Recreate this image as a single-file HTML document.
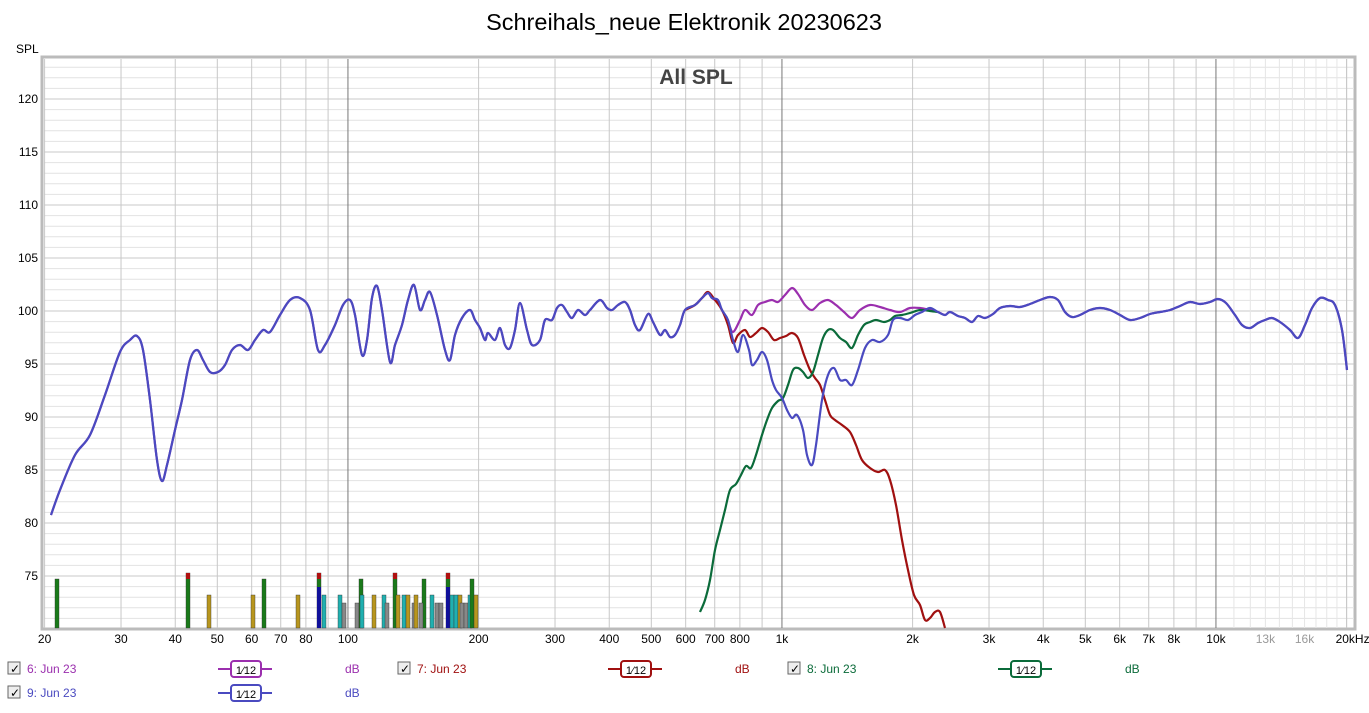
<!DOCTYPE html>
<html><head><meta charset="utf-8"><style>
body{margin:0;background:#fff;width:1369px;height:708px;overflow:hidden;font-family:"Liberation Sans",sans-serif}
</style></head><body>
<svg id="s" width="1369" height="708" xmlns="http://www.w3.org/2000/svg" font-family="Liberation Sans, sans-serif">
<rect width="1369" height="708" fill="#fff"/>
<text x="684" y="30" font-size="23.5" text-anchor="middle" fill="#000">Schreihals_neue Elektronik 20230623</text>
<text x="16" y="53" font-size="12" fill="#000">SPL</text>
<rect x="42" y="57" width="1313" height="572" fill="#fff" stroke="#bbb" stroke-width="3"/>
<g id="grid"></g>
<text x="696" y="84" font-size="21" font-weight="bold" text-anchor="middle" fill="#444">All SPL</text>
<g id="bars"></g>
<g id="curves" fill="none" stroke-width="2.2" stroke-linejoin="round"></g>
<g id="labels" font-size="12" fill="#000"></g>
<g font-size="12">
<rect x="8" y="662" width="12" height="12" fill="#eee" stroke="#666"/><text x="10" y="673" font-size="12">✓</text>
<text x="27" y="673" fill="#9b2fae">6: Jun 23</text>
<line x1="218" y1="669" x2="272" y2="669" stroke="#9b2fae" stroke-width="2"/><rect x="231" y="661" width="30" height="16" rx="3" fill="#fff" stroke="#9b2fae" stroke-width="2"/><text x="246" y="674" text-anchor="middle" font-size="11">1⁄12</text>
<text x="345" y="673" fill="#9b2fae">dB</text>
<rect x="398" y="662" width="12" height="12" fill="#eee" stroke="#666"/><text x="400" y="673">✓</text>
<text x="417" y="673" fill="#a01010">7: Jun 23</text>
<line x1="608" y1="669" x2="662" y2="669" stroke="#a01010" stroke-width="2"/><rect x="621" y="661" width="30" height="16" rx="3" fill="#fff" stroke="#a01010" stroke-width="2"/><text x="636" y="674" text-anchor="middle" font-size="11">1⁄12</text>
<text x="735" y="673" fill="#a01010">dB</text>
<rect x="788" y="662" width="12" height="12" fill="#eee" stroke="#666"/><text x="790" y="673">✓</text>
<text x="807" y="673" fill="#0b6b3a">8: Jun 23</text>
<line x1="998" y1="669" x2="1052" y2="669" stroke="#0b6b3a" stroke-width="2"/><rect x="1011" y="661" width="30" height="16" rx="3" fill="#fff" stroke="#0b6b3a" stroke-width="2"/><text x="1026" y="674" text-anchor="middle" font-size="11">1⁄12</text>
<text x="1125" y="673" fill="#0b6b3a">dB</text>
<rect x="8" y="686" width="12" height="12" fill="#eee" stroke="#666"/><text x="10" y="697">✓</text>
<text x="27" y="697" fill="#4a4ac0">9: Jun 23</text>
<line x1="218" y1="693" x2="272" y2="693" stroke="#4a4ac0" stroke-width="2"/><rect x="231" y="685" width="30" height="16" rx="3" fill="#fff" stroke="#4a4ac0" stroke-width="2"/><text x="246" y="698" text-anchor="middle" font-size="11">1⁄12</text>
<text x="345" y="697" fill="#4a4ac0">dB</text>
</g>
</svg>
<script>
var NS="http://www.w3.org/2000/svg";
function el(p,t,a){var e=document.createElementNS(NS,t);for(var k in a)e.setAttribute(k,a[k]);document.getElementById(p).appendChild(e);return e;}
function fx(f){return 44.6+434*(Math.log10(f)-1.30103);}
function fy(d){return 311-(d-100)*10.6;}
for(var d=71;d<=123;d++){var y=fy(d);el("grid","line",{x1:44,x2:1354,y1:y,y2:y,stroke:d%5==0?"#c8c8c8":"#e2e2e2","stroke-width":1});}
var fs=[];for(var dec=10;dec<=10000;dec*=10){for(var m=1;m<10;m++){var f=dec*m;if(f>=20&&f<=20000)fs.push(f);}}
fs.push(20000);
for(var i=0;i<fs.length;i++){var f=fs[i],x=fx(f);var major=(f==100||f==1000||f==10000);
el("grid","line",{x1:x,x2:x,y1:59,y2:628,stroke:major?"#777":"#c8c8c8","stroke-width":1});
if(f>=10000&&f<20000){for(var k=1;k<10;k++){var xx=fx(f+k*f/10);el("grid","line",{x1:xx,x2:xx,y1:59,y2:628,stroke:"#e6e6e6"});}}}
for(var d=75;d<=120;d+=5){var t=el("labels","text",{x:38,y:fy(d)+4,"text-anchor":"end"});t.textContent=d;}
var xl=[[20,"20"],[30,"30"],[40,"40"],[50,"50"],[60,"60"],[70,"70"],[80,"80"],[100,"100"],[200,"200"],[300,"300"],[400,"400"],[500,"500"],[600,"600"],[700,"700"],[800,"800"],[1000,"1k"],[2000,"2k"],[3000,"3k"],[4000,"4k"],[5000,"5k"],[6000,"6k"],[7000,"7k"],[8000,"8k"],[10000,"10k"],[13000,"13k"],[16000,"16k"],[20000,"20kHz"]];
xl.forEach(function(a){var t=el("labels","text",{x:fx(a[0])+(a[0]==20000?6:0),y:643,"text-anchor":"middle",fill:(a[0]==13000||a[0]==16000)?"#999":"#000"});t.textContent=a[1];});
var bars=[[57,579,"#1a7a1a"],[188,573,"#1a7a1a",1],[209,595,"#b8961e"],[253,595,"#b8961e"],[264,579,"#1a7a1a"],[298,595,"#b8961e"],[319,573,"#1a7a1a",1,"#10109a"],[324,595,"#20b0b0"],[340,595,"#20b0b0"],[344,603,"#888"],[357,603,"#888"],[361,579,"#1a7a1a"],[362,595,"#20b0b0"],[374,595,"#b8961e"],[384,595,"#20b0b0"],[387,603,"#888"],[395,573,"#1a7a1a",1],[398,595,"#b8961e"],[404,595,"#20b0b0"],[408,595,"#b8961e"],[414,603,"#888"],[416,595,"#b8961e"],[424,579,"#1a7a1a"],[421,603,"#888"],[432,595,"#20b0b0"],[437,603,"#888"],[441,603,"#888"],[448,573,"#1a7a1a",1,"#10109a"],[452,595,"#20b0b0"],[456,595,"#20b0b0"],[460,595,"#b8961e"],[462,603,"#888"],[466,603,"#888"],[470,595,"#20b0b0"],[472,579,"#1a7a1a"],[476,595,"#b8961e"]];
bars.forEach(function(b){el("bars","rect",{x:b[0]-2,y:b[1],width:4,height:628-b[1],fill:b[2],stroke:"#333","stroke-width":0.4});
if(b[3])el("bars","rect",{x:b[0]-2,y:b[1],width:4,height:6,fill:"#b01010"});
if(b[4])el("bars","rect",{x:b[0]-2,y:b[1]+14,width:4,height:628-b[1]-14,fill:b[4]});});
function path(p,col){var d="M"+p[0][0]+","+p[0][1];
for(var i=0;i<p.length-1;i++){var p0=p[Math.max(i-1,0)],p1=p[i],p2=p[i+1],p3=p[Math.min(i+2,p.length-1)];
var c1x=p1[0]+(p2[0]-p0[0])/6,c1y=p1[1]+(p2[1]-p0[1])/6,c2x=p2[0]-(p3[0]-p1[0])/6,c2y=p2[1]-(p3[1]-p1[1])/6;
d+=" C"+c1x+","+c1y+" "+c2x+","+c2y+" "+p2[0]+","+p2[1];}
el("curves","path",{d:d,stroke:col});}
var base=[[51,515],[60,490],[75,455],[90,435],[105,395],[120,352],[130,340],[137,336],[143,350],[150,400],[157,460],[162,481],[167,465],[175,430],[182,400],[190,360],[197,350],[203,360],[210,372],[218,372],[225,365],[232,350],[240,345],[248,350],[255,340],[263,330],[270,332],[280,315],[290,300],[300,298],[310,310],[318,350],[325,345],[335,325],[343,305],[350,300],[355,315],[362,355],[367,340],[372,298],[377,286],[382,310],[390,362],[395,345],[402,325],[408,300],[414,285],[420,310],[425,300],[430,292],[437,315],[445,350],[450,360],[455,335],[462,318],[470,310],[475,320],[480,328],[485,340],[488,333],[495,340],[500,328],[505,345],[510,348],[515,330],[520,303],[527,330],[532,345],[540,340],[545,320],[552,320],[557,308],[562,305],[567,312],[572,318],[578,310],[585,315],[590,310],[600,300],[607,308],[612,310],[618,305],[625,302],[630,310],[635,325],[640,330],[648,314],[653,322],[660,335],[665,330],[670,337],[675,335],[680,325],[685,310],[695,305],[702,298],[708,293],[712,298]];
var tail=[[938,312],[945,315],[950,312],[958,316],[965,318],[972,322],[978,316],[985,318],[993,314],[1000,308],[1010,306],[1020,307],[1030,304],[1040,300],[1050,297],[1058,300],[1065,312],[1072,317],[1080,315],[1090,310],[1100,308],[1110,310],[1120,315],[1130,320],[1140,318],[1150,314],[1160,312],[1170,310],[1180,306],[1190,302],[1200,304],[1210,302],[1218,299],[1226,303],[1235,315],[1242,325],[1250,328],[1258,323],[1265,320],[1272,318],[1280,322],[1290,330],[1298,338],[1305,325],[1312,308],[1320,298],[1328,300],[1335,305],[1342,330],[1347,370]];
var red=[[685,310],[695,305],[702,298],[708,292],[715,300],[722,310],[728,325],[733,343],[738,335],[745,330],[750,337],[756,333],[762,328],[768,332],[774,340],[780,338],[786,336],[792,333],[798,338],[804,355],[810,370],[815,378],[820,385],[825,400],[830,415],[835,420],[842,425],[850,432],[856,445],[862,460],[870,468],[878,472],[885,470],[890,480],[896,505],[902,540],[908,570],[914,595],[920,605],[925,620],[930,618],[935,612],[940,612],[945,628]];
var green=[[700,612],[705,600],[710,580],[715,550],[720,530],[725,510],[730,490],[736,484],[741,475],[746,466],[751,468],[756,455],[762,435],[767,420],[772,408],[778,401],[783,398],[788,385],[793,370],[798,368],[803,372],[808,378],[813,372],[818,355],[823,338],[828,330],[833,330],[840,338],[846,342],[852,348],[858,335],[864,325],[870,322],[876,320],[884,322],[890,320],[895,316],[902,315],[910,313],[920,310],[930,311],[938,312]];
var purp=base.concat([[718,303],[728,322],[733,332],[740,320],[745,310],[752,315],[758,305],[765,302],[772,300],[778,302],[785,295],[792,288],[798,294],[805,305],[812,310],[820,303],[828,300],[836,305],[844,312],[852,318],[860,310],[870,305],[880,307],[890,310],[900,312],[910,308],[920,308],[930,310]]).concat(tail);
var blue=base.concat([[718,300],[722,310],[728,320],[733,340],[738,352],[743,335],[749,350],[752,365],[757,360],[762,352],[767,360],[772,380],[776,390],[782,398],[787,410],[792,418],[797,415],[803,430],[807,455],[812,465],[816,445],[822,400],[828,375],[834,368],[840,380],[846,380],[852,385],[858,370],[865,348],[872,340],[880,342],[888,335],[893,320],[900,318],[908,320],[915,315],[922,312],[930,308]]).concat(tail);
path(purp,"#9b2fae");path(red,"#a01010");path(green,"#0b6b3a");path(blue,"#4a4ac0");
</script>
</body></html>
